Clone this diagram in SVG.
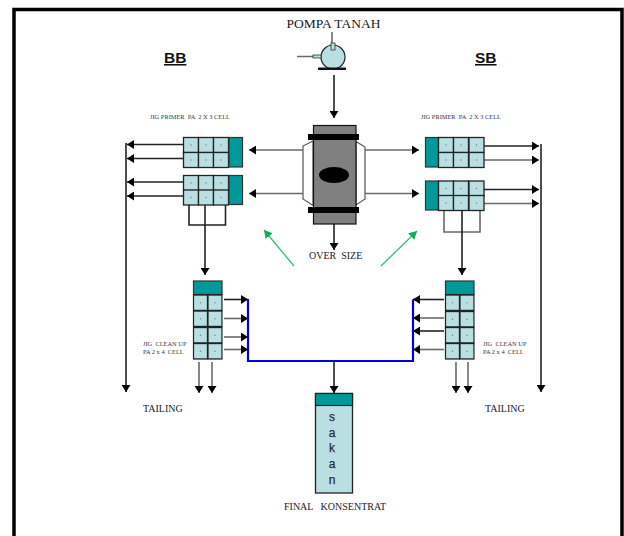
<svg xmlns="http://www.w3.org/2000/svg" xmlns:xlink="http://www.w3.org/1999/xlink" width="624" height="536" viewBox="0 0 624 536">
<style>
text{font-family:"Liberation Serif","Times New Roman",serif;fill:#1a1a2a}
.tiny{font-size:6.4px;fill:#333a48}
.lab{font-size:10px}
.hd{font-family:"Liberation Sans",Arial,sans-serif;font-size:15.500px;font-weight:bold;text-decoration:underline;fill:#111}
.sak{font-family:"Liberation Sans",Arial,sans-serif;font-size:12px;fill:#2a2a3a;stroke:#2a2a3a;stroke-width:.25;text-anchor:middle}
.cell{fill:#b9dfe3;stroke:#222;stroke-width:1.3}
.teal{fill:#009999;stroke:#333;stroke-width:1.2}
.c{fill:none;stroke:#222;stroke-width:1.6}
.g{fill:none;stroke:#6a6a6a;stroke-width:1.6}
.b{fill:none;stroke:#0000e0;stroke-width:2.200}
.gr{fill:none;stroke:#2eb868;stroke-width:1.200}
.dot{fill:#778}
</style>
<defs>
<marker id="a" markerUnits="userSpaceOnUse" markerWidth="8" markerHeight="9" refX="7" refY="4.500" orient="auto"><path d="M0 0L7 4.500L0 9z" fill="#000"/></marker>
<marker id="ag" markerUnits="userSpaceOnUse" markerWidth="9" markerHeight="9" refX="8" refY="4.500" orient="auto"><path d="M0 0L8 4.500L0 9z" fill="#0fae5a"/></marker>
<g id="cell"><rect class="cell" width="15" height="15"/><circle class="dot" cx="7.500" cy="7.500" r=".7"/></g>
</defs>
<rect id="frame" x="14" y="9.500" width="608" height="560" fill="#fff" stroke="#000" stroke-width="3.500"/>
<g id="connectors">
<path class="c" d="M334 75V118" marker-end="url(#a)"/>
<path class="g" d="M303 150H249" marker-end="url(#a)"/><path class="g" d="M303 193.500H249" marker-end="url(#a)"/>
<path class="g" d="M365 150H419" marker-end="url(#a)"/><path class="g" d="M365 193.500H419" marker-end="url(#a)"/>
<path class="c" d="M183 144.500H127" marker-end="url(#a)"/><path class="c" d="M183 158.500H127" marker-end="url(#a)"/>
<path class="c" d="M183 182H127" marker-end="url(#a)"/><path class="c" d="M183 196H127" marker-end="url(#a)"/>
<path class="c" d="M126 143V392" marker-end="url(#a)"/>
<path class="c" d="M189 204V225H225.500V204"/><path class="c" d="M205 204V275" marker-end="url(#a)"/>
<path class="c" d="M484 146H539" marker-end="url(#a)"/><path class="g" d="M484 160H539" marker-end="url(#a)"/>
<path class="c" d="M484 189.500H539" marker-end="url(#a)"/><path class="g" d="M484 203.500H539" marker-end="url(#a)"/>
<path class="c" d="M541 144V392" marker-end="url(#a)"/>
<path class="g" d="M444 211V232H480V211"/><path class="c" d="M462 210V275" marker-end="url(#a)"/>
<path class="c" d="M224 299.500H248" marker-end="url(#a)"/><path class="g" d="M224 318.500H248" marker-end="url(#a)"/>
<path class="g" d="M224 337H248" marker-end="url(#a)"/><path class="g" d="M224 349.500H248" marker-end="url(#a)"/>
<path class="c" d="M444 299.500H413" marker-end="url(#a)"/><path class="g" d="M444 318H413" marker-end="url(#a)"/>
<path class="c" d="M444 331H413" marker-end="url(#a)"/><path class="g" d="M444 349.500H413" marker-end="url(#a)"/>
<path class="g" d="M199 362V393" marker-end="url(#a)"/><path class="g" d="M212 362V393" marker-end="url(#a)"/>
<path class="g" d="M456 362V393" marker-end="url(#a)"/><path class="g" d="M468 362V393" marker-end="url(#a)"/>
<path class="b" d="M248 299V361H413V299.500"/>
<path class="c" d="M334 361V393" marker-end="url(#a)"/>
<path class="c" d="M334 224V250" marker-end="url(#a)"/>
<path class="gr" d="M294 266L264 230" marker-end="url(#ag)"/>
<path class="gr" d="M381 266L417 231" marker-end="url(#ag)"/>
</g>
<g id="pompa">
<text x="333.500" y="28" font-size="13.500" text-anchor="middle">POMPA TANAH</text>
<path class="g" d="M332 32V44M297 56.500H314"/>
<circle cx="333" cy="57" r="12" fill="#b9dfe3" stroke="#222" stroke-width="1.200"/>
<rect x="331" y="43" width="4" height="7" fill="#b9dfe3" stroke="#333" stroke-width=".8"/>
<rect x="313" y="55" width="8" height="3" fill="#b9dfe3" stroke="#333" stroke-width=".8"/>
<rect x="318" y="67.500" width="28" height="2.500" fill="#111"/>
</g>
<text id="bb" class="hd" x="164" y="63">BB</text>
<text id="sb" class="hd" x="475" y="63">SB</text>
<g id="separator">
<path d="M313 141L303 146V199L313 205.500zM356 141.500L365 147V199L356 205z" fill="#fff" stroke="#555" stroke-width="1.200"/>
<rect x="313.500" y="125.500" width="42.500" height="98.500" fill="#808080" stroke="#111" stroke-width="1.200"/>
<rect x="308" y="134" width="51" height="6" fill="#000"/>
<rect x="308" y="207" width="51" height="6" fill="#000"/>
<ellipse cx="334" cy="175" rx="15" ry="8" fill="#000"/>
</g>
<text id="over-size" class="lab" x="309" y="259" xml:space="preserve">OVER  SIZE</text>
<text id="lbl-primer-l" class="tiny" x="150" y="119" xml:space="preserve">JIG PRIMER  PA  2 X 3 CELL</text>
<text id="lbl-primer-r" class="tiny" x="421" y="119" xml:space="preserve">JIG PRIMER  PA  2 X 3 CELL</text>
<g id="primer-bb-1"><use xlink:href="#cell" x="183.500" y="137.500"/><use xlink:href="#cell" x="198.500" y="137.500"/><use xlink:href="#cell" x="213.500" y="137.500"/><use xlink:href="#cell" x="183.500" y="152.500"/><use xlink:href="#cell" x="198.500" y="152.500"/><use xlink:href="#cell" x="213.500" y="152.500"/><rect class="teal" x="229" y="137.500" width="13.500" height="29.500"/></g>
<g id="primer-bb-2"><use xlink:href="#cell" x="183.500" y="175.500"/><use xlink:href="#cell" x="198.500" y="175.500"/><use xlink:href="#cell" x="213.500" y="175.500"/><use xlink:href="#cell" x="183.500" y="190"/><use xlink:href="#cell" x="198.500" y="190"/><use xlink:href="#cell" x="213.500" y="190"/><rect class="teal" x="229" y="175.500" width="13.500" height="29"/></g>
<g id="primer-sb-1"><rect class="teal" x="425.500" y="137.500" width="13" height="29.500"/><use xlink:href="#cell" x="438.500" y="137.500"/><use xlink:href="#cell" x="453.500" y="137.500"/><use xlink:href="#cell" x="469" y="137.500"/><use xlink:href="#cell" x="438.500" y="152.500"/><use xlink:href="#cell" x="453.500" y="152.500"/><use xlink:href="#cell" x="469" y="152.500"/></g>
<g id="primer-sb-2"><rect class="teal" x="425.500" y="181" width="13" height="29"/><use xlink:href="#cell" x="438.500" y="181"/><use xlink:href="#cell" x="453.500" y="181"/><use xlink:href="#cell" x="469" y="181"/><use xlink:href="#cell" x="438.500" y="195.500"/><use xlink:href="#cell" x="453.500" y="195.500"/><use xlink:href="#cell" x="469" y="195.500"/></g>
<g id="cleanup-bb"><rect class="teal" x="193.500" y="281" width="28.500" height="13.500"/>
<use xlink:href="#cell" transform="translate(193.500 295) scale(.93 1.03)"/><use xlink:href="#cell" transform="translate(208 295) scale(.93 1.03)"/>
<use xlink:href="#cell" transform="translate(193.500 311) scale(.93 1.03)"/><use xlink:href="#cell" transform="translate(208 311) scale(.93 1.03)"/>
<use xlink:href="#cell" transform="translate(193.500 327.500) scale(.93 1.03)"/><use xlink:href="#cell" transform="translate(208 327.500) scale(.93 1.03)"/>
<use xlink:href="#cell" transform="translate(193.500 343.500) scale(.93 1.03)"/><use xlink:href="#cell" transform="translate(208 343.500) scale(.93 1.03)"/></g>
<g id="cleanup-sb"><rect class="teal" x="445.500" y="281" width="28.500" height="13.500"/>
<use xlink:href="#cell" transform="translate(445.500 295) scale(.93 1.03)"/><use xlink:href="#cell" transform="translate(460 295) scale(.93 1.03)"/>
<use xlink:href="#cell" transform="translate(445.500 311.500) scale(.93 1.03)"/><use xlink:href="#cell" transform="translate(460 311.500) scale(.93 1.03)"/>
<use xlink:href="#cell" transform="translate(445.500 327.500) scale(.93 1.03)"/><use xlink:href="#cell" transform="translate(460 327.500) scale(.93 1.03)"/>
<use xlink:href="#cell" transform="translate(445.500 343.500) scale(.93 1.03)"/><use xlink:href="#cell" transform="translate(460 343.500) scale(.93 1.03)"/></g>
<text id="lbl-clean-l" class="tiny"><tspan x="143" y="346" xml:space="preserve">JIG  CLEAN UP</tspan><tspan x="143" y="354" xml:space="preserve">PA 2 x 4  CELL</tspan></text>
<text id="lbl-clean-r" class="tiny"><tspan x="483" y="346" xml:space="preserve">JIG  CLEAN UP</tspan><tspan x="483" y="354" xml:space="preserve">PA 2 x 4  CELL</tspan></text>
<text id="tailing-l" class="lab" x="143" y="411.500">TAILING</text>
<text id="tailing-r" class="lab" x="485" y="411.500">TAILING</text>
<g id="sakan"><rect class="cell" x="315.500" y="393.500" width="37" height="99.500"/><rect x="315.500" y="393.500" width="37" height="12" fill="#009999" stroke="#222" stroke-width="1.200"/>
<text class="sak" x="332" y="420.500">s</text><text class="sak" x="332" y="436.500">a</text><text class="sak" x="332" y="452">k</text><text class="sak" x="332" y="468">a</text><text class="sak" x="332" y="484">n</text></g>
<text id="final" class="lab" x="284" y="509.500" xml:space="preserve">FINAL   KONSENTRAT</text>
</svg>
